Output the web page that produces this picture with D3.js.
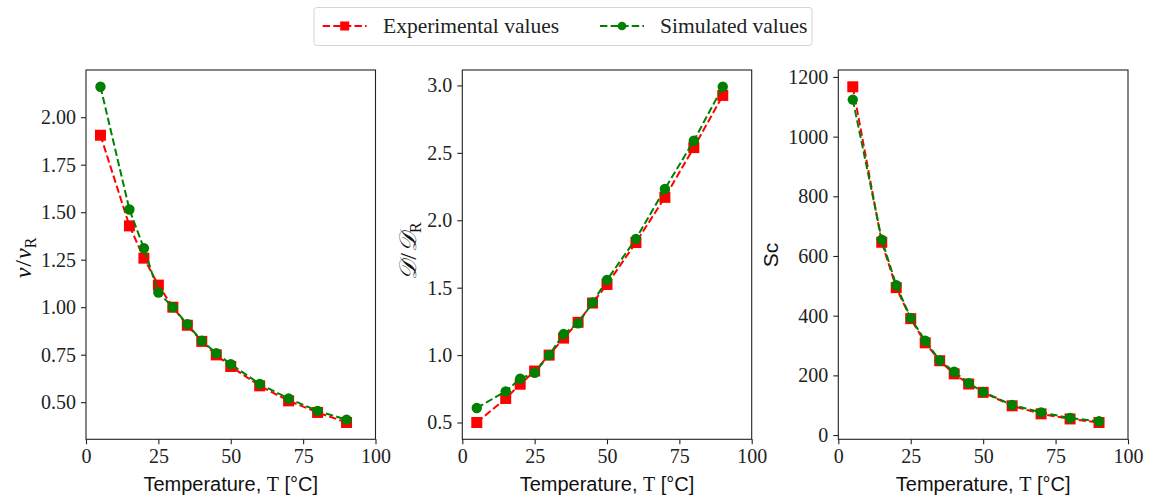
<!DOCTYPE html>
<html>
<head>
<meta charset="utf-8">
<script src="https://cdn.jsdelivr.net/npm/d3@7"></script>
<style>
  body { margin: 0; background: #fff; }
  svg { display: block; }
  .tick text { font-family: "Liberation Serif", "DejaVu Serif", serif; font-size: 20px; fill: #222; }
</style>
</head>
<body>
<div id="chart"></div>
<script>
// temperatures [°C]
const temps = [5, 15, 20, 25, 30, 35, 40, 45, 50, 60, 70, 80, 90];

// kinematic viscosity ratio nu / nu_R
const nuExp = [1.905, 1.428, 1.258, 1.116, 1.0, 0.905, 0.82, 0.749, 0.688, 0.586, 0.507, 0.446, 0.393];
const nuSim = [2.16, 1.514, 1.31, 1.077, 1.0, 0.91, 0.823, 0.758, 0.70, 0.596, 0.519, 0.454, 0.408];

// diffusivity ratio D / D_R
const diffExp = [0.5, 0.678, 0.784, 0.882, 1.0, 1.126, 1.243, 1.386, 1.524, 1.835, 2.17, 2.539, 2.926];
const diffSim = [0.608, 0.731, 0.825, 0.869, 1.0, 1.156, 1.235, 1.39, 1.558, 1.862, 2.232, 2.59, 2.99];

// Schmidt number
const scExp = [1167, 646, 494, 390, 309, 249, 205, 171, 143, 98, 71, 54, 42];
const scSim = [1124, 655, 502, 392, 316, 250, 212, 174, 144, 101, 76, 57, 46];

const xTicks = [0, 25, 50, 75, 100];
const nuTicks = [0.5, 0.75, 1.0, 1.25, 1.5, 1.75, 2.0];
const diffTicks = [0.5, 1.0, 1.5, 2.0, 2.5, 3.0];
const scTicks = [0, 200, 400, 600, 800, 1000, 1200];

const seriesNames = ["Experimental values", "Simulated values"];
const colors = ["#ff0000", "#008000"];

const W = 1150, H = 500;
const plotTop = 70, plotBottom = 439.3;
const panels = [
  { left: 86, right: 375.5, exp: nuExp, sim: nuSim, ticks: nuTicks, fmt: d3.format(".2f"), label: "nu", labelX: 31, labelY: 258 },
  { left: 462.3, right: 751.7, exp: diffExp, sim: diffSim, ticks: diffTicks, fmt: d3.format(".1f"), label: "D", labelX: 416, labelY: 251 },
  { left: 838.3, right: 1128, exp: scExp, sim: scSim, ticks: scTicks, fmt: d3.format("d"), label: "Sc", labelX: 778, labelY: 255 }
];

const svg = d3.select("#chart")
  .append("svg")
  .attr("width", W)
  .attr("height", H);

const dash = "7.4,3.2";

panels.forEach(function (p) {
  const x = d3.scaleLinear().domain([0, 100]).range([p.left, p.right]);
  // 5% margin like matplotlib autoscale
  const all = p.exp.concat(p.sim);
  const lo = d3.min(all), hi = d3.max(all), pad = (hi - lo) * 0.05;
  const y = d3.scaleLinear().domain([lo - pad, hi + pad]).range([plotBottom, plotTop]);

  const g = svg.append("g");

  // axes
  const xAxis = g.append("g")
    .attr("transform", `translate(0,${plotBottom})`)
    .call(d3.axisBottom(x).tickValues(xTicks).tickSize(5).tickPadding(5).tickFormat(d3.format("d")));
  const yAxis = g.append("g")
    .attr("transform", `translate(${p.left},0)`)
    .call(d3.axisLeft(y).tickValues(p.ticks).tickSize(5).tickPadding(5).tickFormat(p.fmt));
  [xAxis, yAxis].forEach(a => {
    a.select(".domain").remove();
    a.selectAll(".tick line").attr("stroke", "#222").attr("stroke-width", 1.1);
  });

  // frame
  g.append("rect")
    .attr("x", p.left).attr("y", plotTop)
    .attr("width", p.right - p.left).attr("height", plotBottom - plotTop)
    .attr("fill", "none").attr("stroke", "#222").attr("stroke-width", 1.1);

  const line = d3.line().x((d, i) => x(temps[i])).y(d => y(d));

  // experimental: red squares
  g.append("path").datum(p.exp)
    .attr("d", line).attr("fill", "none")
    .attr("stroke", colors[0]).attr("stroke-width", 2).attr("stroke-dasharray", dash);
  g.append("g").selectAll("rect")
    .data(p.exp)
    .join("rect")
    .attr("x", (d, i) => x(temps[i]) - 5.5)
    .attr("y", d => y(d) - 5.5)
    .attr("width", 11).attr("height", 11)
    .attr("fill", colors[0]);

  // simulated: green circles
  g.append("path").datum(p.sim)
    .attr("d", line).attr("fill", "none")
    .attr("stroke", colors[1]).attr("stroke-width", 2).attr("stroke-dasharray", dash);
  g.append("g").selectAll("circle")
    .data(p.sim)
    .join("circle")
    .attr("cx", (d, i) => x(temps[i]))
    .attr("cy", d => y(d))
    .attr("r", 5.2)
    .attr("fill", colors[1]);

  // x label
  const xl = g.append("text")
    .attr("x", (p.left + p.right) / 2)
    .attr("y", 491)
    .attr("text-anchor", "middle")
    .attr("fill", "#111")
    .style("font-size", "20px");
  xl.append("tspan").style("font-family", "'Liberation Sans', Arial, sans-serif").text("Temperature, ");
  xl.append("tspan").style("font-family", "'Liberation Serif', serif").text("T");
  xl.append("tspan").style("font-family", "'Liberation Sans', Arial, sans-serif").text(" [°C]");

  // y label
  const yl = g.append("text")
    .attr("transform", `translate(${p.labelX},${p.labelY}) rotate(-90)`)
    .attr("text-anchor", "middle")
    .attr("fill", "#111");
  if (p.label === "Sc") {
    yl.style("font-family", "'Liberation Sans', Arial, sans-serif").style("font-size", "21px").text("Sc");
  } else {
    const sym = p.label === "nu" ? "ν" : "𝒟";
    yl.style("font-family", "'Liberation Serif', 'DejaVu Serif', serif").style("font-size", "24px");
    yl.append("tspan").style("font-style", "italic").text(sym);
    yl.append("tspan").attr("dx", 1).text("/");
    yl.append("tspan").attr("dx", 1).style("font-style", "italic").text(sym);
    yl.append("tspan").attr("dy", 5).style("font-size", "16px").text("R");
  }
});

// legend
const leg = svg.append("g");
leg.append("rect")
  .attr("x", 314).attr("y", 7.5)
  .attr("width", 498).attr("height", 38)
  .attr("rx", 3).attr("fill", "#fff")
  .attr("stroke", "#d5d5d5").attr("stroke-width", 1);

const legItems = [
  { x0: 322.7, tx: 383, shape: "square" },
  { x0: 600, tx: 660, shape: "circle" }
];
legItems.forEach(function (it, i) {
  leg.append("line")
    .attr("x1", it.x0).attr("x2", it.x0 + 44)
    .attr("y1", 26).attr("y2", 26)
    .attr("stroke", colors[i]).attr("stroke-width", 2).attr("stroke-dasharray", dash);
  if (it.shape === "square") {
    leg.append("rect").attr("x", it.x0 + 22 - 4.5).attr("y", 26 - 4.5)
      .attr("width", 9).attr("height", 9).attr("fill", colors[i]);
  } else {
    leg.append("circle").attr("cx", it.x0 + 22).attr("cy", 26).attr("r", 4.3).attr("fill", colors[i]);
  }
  leg.append("text")
    .attr("x", it.tx).attr("y", 33)
    .attr("fill", "#222")
    .style("font-family", "'Liberation Serif', 'DejaVu Serif', serif")
    .style("font-size", "21.5px")
    .text(seriesNames[i]);
});
</script>
</body>
</html>
